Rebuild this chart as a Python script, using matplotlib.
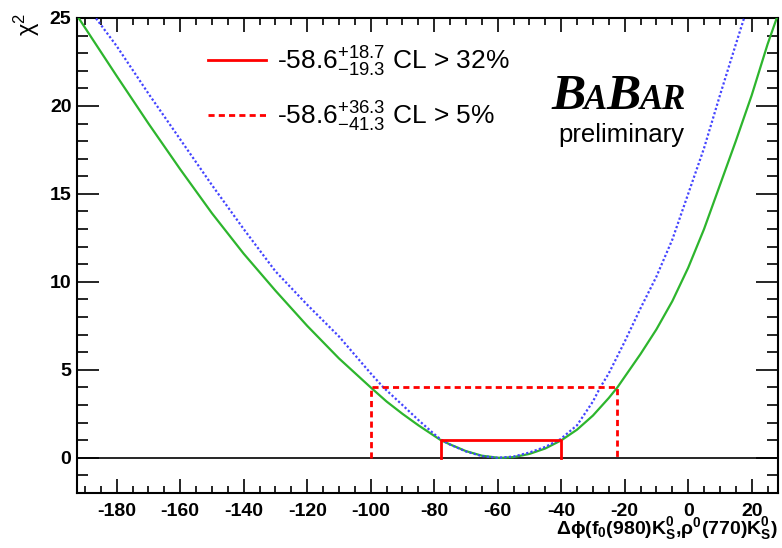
import matplotlib
matplotlib.use('Agg')
import matplotlib.pyplot as plt
from matplotlib.ticker import MultipleLocator

plt.rcParams['font.family'] = ['Liberation Sans', 'DejaVu Sans']
plt.rcParams['mathtext.default'] = 'regular'
plt.rcParams['axes.unicode_minus'] = False

# chi2 scan
phi_green = [-192, -180, -170, -160, -150, -140, -130, -120, -110, -100, -95, -90, -85,
             -80, -77.9, -75, -70, -65, -60, -58.6, -55, -50, -45, -39.9, -35, -30, -25,
             -22.3, -20, -15, -10, -5, 0, 5, 10, 15, 20, 25, 28.3]
chi2_green = [25.0, 21.7, 19.0, 16.4, 13.9, 11.6, 9.5, 7.5, 5.65, 4.0, 3.2, 2.5, 1.85,
              1.25, 1.0, 0.76, 0.38, 0.12, 0.005, 0.0, 0.04, 0.22, 0.53, 1.0, 1.6, 2.4, 3.4,
              4.0, 4.6, 5.9, 7.3, 8.9, 10.8, 13.0, 15.5, 18.0, 20.6, 23.5, 25.2]

phi_blue = [-188, -186.6, -180, -170, -160, -150, -140, -130, -120, -110, -100, -96, -90,
            -85, -80, -78, -75, -70, -65, -60, -55, -50, -45, -40.3, -35, -30, -27.7, -25,
            -20, -15, -10, -5, 0, 5, 10, 15, 18.5]
chi2_blue = [25.4, 25.0, 23.4, 20.7, 18.1, 15.5, 13.0, 10.6, 8.7, 6.9, 4.8, 4.0, 3.0,
             2.15, 1.35, 1.05, 0.75, 0.36, 0.1, 0.0, 0.07, 0.3, 0.62, 1.05, 1.85, 3.2, 4.0, 4.8,
             6.6, 8.5, 10.3, 12.4, 15.0, 17.6, 20.6, 23.5, 25.5]

central = -58.6
err68 = (18.7, 19.3)   # (+, -)
err95 = (36.3, 41.3)

fig = plt.figure(figsize=(7.82, 5.48), dpi=100)
ax = fig.add_axes([0.0985, 0.1004, 0.8964, 0.8668])

ax.axhline(0, color='black', lw=1.2, zorder=1)
ax.plot(phi_green, chi2_green, color='#2db52d', lw=1.6, zorder=3)
ax.plot(phi_blue, chi2_blue, color='#4444ff', lw=1.6, ls=(0, (1, 1)), zorder=3)

lo68, hi68 = central - err68[1], central + err68[0]
lo95, hi95 = central - err95[1], central + err95[0]
l68, = ax.plot([lo68, lo68, hi68, hi68], [0, 1, 1, 0], color='red', lw=2, zorder=4)
l95, = ax.plot([lo95, lo95, hi95, hi95], [0, 4, 4, 0], color='red', lw=2,
               ls=(0, (2.2, 1.5)), zorder=4)

lab68 = '-58.6${}^{+%.1f}_{-%.1f}$ CL > 32%%' % err68
lab95 = '-58.6${}^{+%.1f}_{-%.1f}$ CL > 5%%' % err95
ax.legend([l68, l95], [lab68, lab95], loc='upper left', bbox_to_anchor=(0.187, 0.944),
          frameon=False, fontsize=19, handlelength=2.2, handletextpad=0.4,
          labelspacing=0.78, borderpad=0, borderaxespad=0)

ax.set_xlim(-192.5, 28.3)
ax.set_ylim(-2, 25)
ax.xaxis.set_major_locator(MultipleLocator(20))
ax.xaxis.set_minor_locator(MultipleLocator(5))
ax.yaxis.set_major_locator(MultipleLocator(5))
ax.yaxis.set_minor_locator(MultipleLocator(1))
ax.tick_params(which='both', direction='in', top=True, right=True, width=1.2,
               labelsize=14)
ax.tick_params(axis='x', which='major', length=10, pad=7)
ax.tick_params(axis='x', which='minor', length=5)
ax.tick_params(axis='y', which='major', length=16, pad=4)
ax.tick_params(axis='y', which='minor', length=8)
plt.setp(ax.get_xticklabels() + ax.get_yticklabels(), fontweight='bold')
for s in ax.spines.values():
    s.set_linewidth(1.5)

fig.text(778 / 782, 1 - 534 / 548, 'Δϕ(f$_0$(980)K$^0_S$,ρ$^0$(770)K$^0_S$)',
         ha='right', va='baseline', fontsize=14, fontweight='bold')
fig.text(27 / 782, 1 - 24 / 548, 'χ$^2$', rotation=90, ha='center', va='center',
         fontsize=17)

# BaBar logo, pieces placed one after the other
fig.canvas.draw()
renderer = fig.canvas.get_renderer()
x = 551
for txt, size in [('B', 37), ('A', 25), ('B', 37), ('AR', 25)]:
    t = fig.text(x / 782, 1 - 109 / 548, txt, family='Liberation Serif', style='italic',
                 fontweight='bold', fontsize=size, va='baseline', ha='left')
    x = t.get_window_extent(renderer).x1 - 1
fig.text(558 / 782, 1 - 142 / 548, 'preliminary', fontsize=18.5, va='baseline', ha='left')

fig.savefig('out.png', dpi=100)
